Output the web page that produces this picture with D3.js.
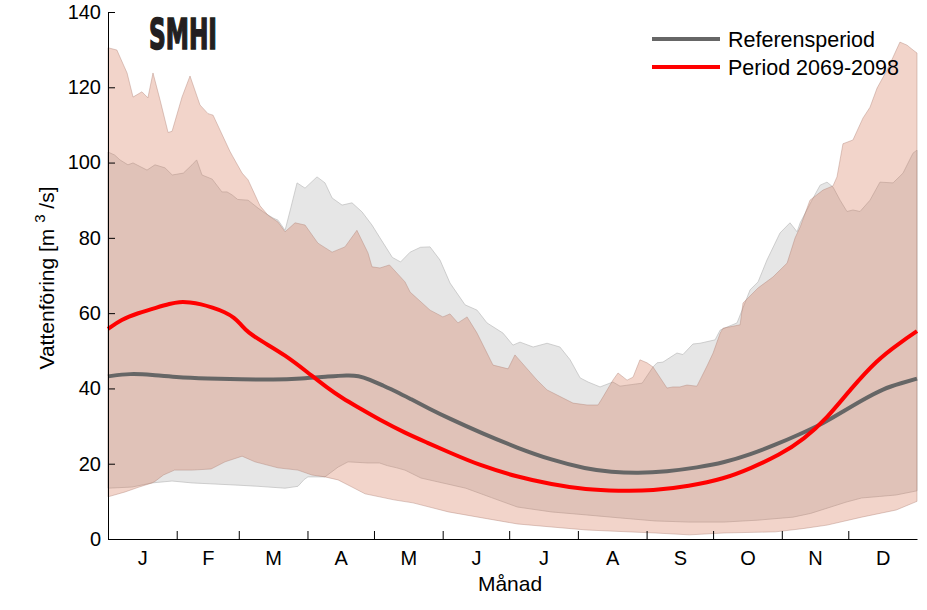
<!DOCTYPE html>
<html>
<head>
<meta charset="utf-8">
<script src="https://cdn.jsdelivr.net/npm/d3@7"></script>
<style>
  html, body { margin: 0; padding: 0; background: #fff; }
  svg { display: block; font-family: "Liberation Sans", Arial, sans-serif; }
</style>
</head>
<body>
<svg id="chart" width="927" height="610"></svg>
<script>
// ---- data (day of year, m3/s) ----
const monthLabels = ["J","F","M","A","M","J","J","A","S","O","N","D"];
const monthStarts = [0,31,59,90,120,151,181,212,243,273,304,334,365];
const yTicks = [0,20,40,60,80,100,120,140];
const legendLabels = ["Referensperiod","Period 2069-2098"];
const yLabelMain = "Vattenföring [m ";
const yLabelSup = "3";
const yLabelEnd = " /s]";
const xLabel = "Månad";

const refMean = [[0,43.2],[10,44],[20,43.6],[30,43],[45,42.6],[60,42.4],[75,42.3],[87,42.6],[100,43.2],[108,43.5],[113,43.4],[118,42.4],[124,40.8],[130,39.2],[136.5,37.2],[145,34.6],[153.6,32.1],[169,28],[184.7,24.2],[200,21],[215.8,18.6],[227,17.8],[239,17.5],[252,17.9],[266,19],[278,20.3],[290,22.5],[301,25],[312,27.8],[323,30.8],[332,34],[340,36.8],[350,40],[358,41.4],[365,42.6]];

const futMean = [[0,55.8],[6,58.3],[13.5,60],[22,61.5],[28,62.5],[32,63],[37,62.9],[42,62.4],[47,61.5],[52.8,60.3],[57,58.8],[60,57],[63,54.9],[70,52.3],[79.8,48.9],[90,44.3],[99,40.1],[106,37.3],[112.8,35],[122.7,31.6],[134,28.2],[144,25.6],[153.6,23.1],[168,19.5],[184.7,16.5],[200,14.5],[215.8,13.1],[230,12.8],[246,12.8],[262,14],[278,16],[290,18.8],[303,22.3],[314,26.5],[324.4,32.1],[335,39.8],[347,47.6],[357,52],[365,55.2]];

const refMax = [[0,102.8],[3,102],[5.4,100.7],[9,99.4],[11.3,99.9],[17.6,98],[21.2,99.4],[25.7,98.6],[29,96.7],[34,97.2],[37.9,99.4],[40,100.7],[42.4,96.7],[47,95.6],[51.4,92.2],[53.7,92.2],[56,91.4],[58.5,90.2],[63.2,90],[67.7,87.9],[70.8,86.6],[74.4,85.3],[76.7,84.7],[79.9,82],[82.5,88],[85.3,94.6],[88.9,93.2],[94.3,96.2],[97.9,94.6],[101.1,90.6],[105.6,88.7],[110.1,89.3],[114.6,86.9],[119.1,83.4],[122.7,80],[128.3,74.8],[132,73.6],[136.3,76.2],[141,77.5],[145.3,77.6],[149.8,74.1],[154.3,68],[161.1,62.2],[166.5,60.8],[171,57.4],[178.2,54.7],[182.7,51.5],[185.9,52.3],[191.8,51],[198.1,52],[203.9,51],[208.5,47.6],[213,42.8],[216.6,41.7],[222,40.4],[227.8,41.7],[231,40.6],[236,41],[241,41.4],[245.9,45.7],[247.7,46.8],[250.4,47],[256.7,49.4],[259.4,49],[263.9,51.8],[267.1,52],[273.9,52.9],[276.2,55.5],[279.3,56.3],[283.8,57.4],[286.5,61.4],[289.7,66.2],[293.3,68.3],[297.3,74.1],[303.2,81.3],[307.7,84],[310.9,81.6],[312.3,84],[317.6,90],[321.3,94],[324.4,94.8],[327.1,93.5],[330.3,90],[333.4,87],[336.1,87.4],[339.3,87],[343.8,90],[348.3,94.8],[354.2,94.6],[358.7,97.2],[363.2,102.5],[365,103.3]];

const futMax = [[0,130.5],[4,129.9],[8.6,123.8],[11.3,117.4],[15.3,118.8],[18,117.2],[20.3,123.8],[23.5,116.6],[27.1,108],[28.9,108.3],[33.4,117.4],[37,123],[41.5,115.3],[45.1,113],[47.4,112.6],[55,103],[56.4,101.5],[60.5,97.2],[63.2,95.4],[68.6,88.5],[72.2,86],[76.7,84.2],[79.9,81.6],[84.4,84],[88.9,83.4],[94.7,78.6],[101.1,76.2],[106.9,77.6],[112.3,82],[117.3,76],[119.1,72.3],[122.7,72],[127,72.8],[134,68.3],[136.3,65.6],[145.3,60.8],[151.1,59],[154.3,59.8],[157.9,57.4],[162,59],[166.5,54.7],[173.7,46.2],[180.5,45.2],[183.6,48.9],[193.6,42.2],[198.1,39.6],[209.8,36.1],[216.1,35.6],[221.1,35.6],[223.3,37.7],[227.8,42.2],[230.1,44.1],[234.2,42.2],[236.9,43],[240,47.6],[243.2,46.8],[245.9,45.7],[252.2,40.1],[254.9,40.4],[258,40.4],[261.2,40.9],[265.7,40.6],[270.3,46],[273,49.4],[276.2,54.7],[277.5,56],[285.2,56.9],[286.5,62.7],[293.3,66.7],[300,69.6],[306.4,73.3],[310,80],[312.3,82.9],[316.7,90],[322.6,92.7],[327.1,93.8],[328.9,96.2],[331.6,105],[336.1,106],[340.6,111.8],[343.8,114.7],[347,119.8],[351.5,124.6],[354.2,128],[357.3,132],[360.5,131.2],[363.2,129.9],[365,129.1]];

const refMin = [[0,13.5],[10.8,13.8],[19.9,14.9],[28.9,15.4],[37.9,14.9],[48.3,14.6],[58.7,14.3],[67.7,14],[79.9,13.5],[85.7,14],[88.5,15.8],[90.2,16.5],[97.9,16.5],[103.8,19.1],[108.3,20.5],[117.3,20.2],[122.5,20.2],[126,19.5],[130.3,18.9],[134,18.3],[141.2,16.2],[161.4,13.5],[173,11],[184.7,8.5],[200,7.2],[215.8,6.4],[231,5.6],[246.8,4.8],[262,4.5],[277.9,4.5],[293,5],[309,5.8],[317,6.8],[324.5,8.2],[333,9.8],[340,10.9],[348,11.3],[355.6,11.7],[365,12.8]];

const futMin = [[0,11.2],[7.7,12.5],[14,13.8],[19.9,14.9],[21.2,15.3],[25,17],[30,18.3],[37.9,18.3],[46.5,18.6],[52.8,20.5],[60.5,22],[66.3,20.5],[76.7,18.9],[85.7,18.3],[92,17],[97.9,16.5],[103.8,15.7],[110.1,13.8],[116,12],[122.5,11.2],[129,10.4],[137.6,9.6],[153.6,7.2],[169,5.6],[184.7,4],[200,3.2],[215.8,2.4],[231,2],[246.8,1.6],[262.4,1.1],[277.9,1.6],[301.2,1.9],[314,2.8],[324.5,3.7],[340,5.8],[355.6,7.7],[365,10]];

// ---- drawing ----
const svg = d3.select("#chart");
const x = d3.scaleLinear().domain([0, 365]).range([108, 917]);
const y = d3.scaleLinear().domain([0, 140]).range([539, 12]);

const line = d3.line().x(d => x(d[0])).y(d => y(d[1]));
const smooth = d3.line().x(d => x(d[0])).y(d => y(d[1])).curve(d3.curveBasis);

function bandPath(upper, lower) {
  return line(upper.concat(lower.slice().reverse())) + "Z";
}

// reference band
svg.append("path")
  .attr("d", bandPath(refMax, refMin))
  .attr("fill", "#e6e6e6")
  .attr("stroke", "#bdbdbd")
  .attr("stroke-width", 0.7);

// future band (semi-transparent)
svg.append("path")
  .attr("d", bandPath(futMax, futMin))
  .attr("fill", "rgb(209,101,66)")
  .attr("fill-opacity", 0.28)
  .attr("stroke", "rgb(175,130,118)")
  .attr("stroke-opacity", 0.6)
  .attr("stroke-width", 0.7);

// mean lines
svg.append("path").attr("d", smooth(refMean))
  .attr("fill", "none").attr("stroke", "#666666").attr("stroke-width", 4);
svg.append("path").attr("d", smooth(futMean))
  .attr("fill", "none").attr("stroke", "#ff0000").attr("stroke-width", 4);

// axes
const yAxis = d3.axisLeft(y).tickValues(yTicks).tickSizeInner(-7).tickSizeOuter(0).tickPadding(7);
const gy = svg.append("g").attr("transform", "translate(108,0)").call(yAxis);
gy.selectAll("text").attr("font-size", 20).attr("font-family", "Liberation Sans, Arial, sans-serif").attr("fill", "#000");
gy.selectAll("line, path").attr("stroke", "#000");

const xTickAxis = d3.axisBottom(x).tickValues(monthStarts.slice(1, 12)).tickSizeInner(-8).tickSizeOuter(0).tickFormat("");
const gx = svg.append("g").attr("transform", "translate(0,539)").call(xTickAxis);
gx.selectAll("line, path").attr("stroke", "#000");

const monthCenters = monthLabels.map((m, i) => (monthStarts[i] + monthStarts[i + 1]) / 2);
const xLabAxis = d3.axisBottom(x).tickValues(monthCenters).tickSize(0).tickPadding(12)
  .tickFormat((d, i) => monthLabels[i]);
const gxl = svg.append("g").attr("transform", "translate(0,539)").call(xLabAxis);
gxl.select(".domain").remove();
gxl.selectAll("text").attr("font-size", 20).attr("font-family", "Liberation Sans, Arial, sans-serif").attr("fill", "#000");

// axis titles
svg.append("text")
  .attr("x", 510).attr("y", 591)
  .attr("text-anchor", "middle")
  .attr("font-size", 21)
  .text(xLabel);

const yl = svg.append("text")
  .attr("transform", "translate(54,278) rotate(-90)")
  .attr("text-anchor", "middle")
  .attr("font-size", 21);
yl.append("tspan").text(yLabelMain);
yl.append("tspan").attr("font-size", 15).attr("dy", -9).text(yLabelSup);
yl.append("tspan").attr("dy", 9).text(yLabelEnd);

// legend
const legColors = ["#666666", "#ff0000"];
const legY = [39, 67];
legendLabels.forEach((t, i) => {
  svg.append("line")
    .attr("x1", 652).attr("x2", 720)
    .attr("y1", legY[i]).attr("y2", legY[i])
    .attr("stroke", legColors[i]).attr("stroke-width", 4);
  svg.append("text")
    .attr("x", 728).attr("y", legY[i] + 8)
    .attr("font-size", 21.5)
    .text(t);
});

// SMHI logo
svg.append("text")
  .attr("x", 149).attr("y", 48.5)
  .attr("font-family", "Liberation Sans Narrow, DejaVu Sans Condensed, Liberation Sans, sans-serif")
  .attr("font-weight", "bold")
  .attr("font-size", 43)
  .attr("textLength", 68)
  .attr("lengthAdjust", "spacingAndGlyphs")
  .attr("fill", "#231f20")
  .attr("stroke", "#231f20")
  .attr("stroke-width", 1.6)
  .attr("stroke-linejoin", "miter")
  .text("SMHI");
</script>
</body>
</html>
